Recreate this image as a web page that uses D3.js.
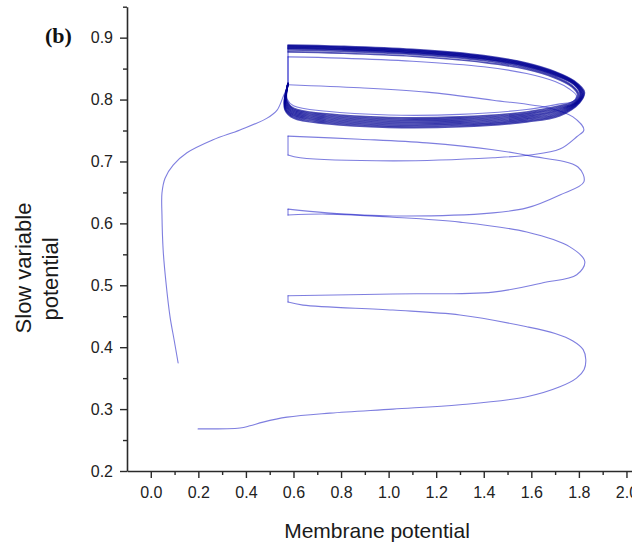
<!DOCTYPE html>
<html>
<head>
<meta charset="utf-8">
<script src="https://cdn.jsdelivr.net/npm/d3@7"></script>
<style>
  body { margin: 0; background: #fff; }
  svg { display: block; }
</style>
</head>
<body>
<svg id="chart" width="632" height="552"></svg>
<script>
// Axis ticks
const xMajorTicks = [0.0, 0.2, 0.4, 0.6, 0.8, 1.0, 1.2, 1.4, 1.6, 1.8, 2.0];
const xMinorTicks = [0.1, 0.3, 0.5, 0.7, 0.9, 1.1, 1.3, 1.5, 1.7, 1.9, 2.1];
const yMajorTicks = [0.2, 0.3, 0.4, 0.5, 0.6, 0.7, 0.8, 0.9];
const yMinorTicks = [0.25, 0.35, 0.45, 0.55, 0.65, 0.75, 0.85, 0.95];

// Transient: (membrane potential, slow variable) climbing from the low state
const approachPath = [
  [0.199, 0.268], [0.375, 0.2695], [0.417, 0.273], [0.472, 0.279], [0.573, 0.287],
  [0.753, 0.2935], [1.018, 0.300], [1.300, 0.307], [1.581, 0.320], [1.720, 0.336],
  [1.790, 0.350], [1.822, 0.364], [1.829, 0.380], [1.818, 0.396], [1.775, 0.410],
  [1.700, 0.422], [1.581, 0.433], [1.300, 0.452],
  [1.018, 0.460], [0.640, 0.468], [0.577, 0.473], [0.577, 0.483], [1.018, 0.486],
  [1.439, 0.489], [1.649, 0.504], [1.791, 0.517], [1.825, 0.538], [1.762, 0.562],
  [1.581, 0.586], [1.300, 0.602], [1.018, 0.610], [0.741, 0.615], [0.577, 0.6135],
  [0.577, 0.623], [0.741, 0.617], [1.018, 0.612], [1.439, 0.617], [1.581, 0.625],
  [1.720, 0.646], [1.821, 0.667], [1.796, 0.691], [1.594, 0.709], [1.439, 0.719],
  [1.161, 0.730], [0.879, 0.736], [0.577, 0.741], [0.577, 0.7105], [0.628, 0.706],
  [1.018, 0.701], [1.439, 0.706], [1.594, 0.7105], [1.720, 0.720], [1.791, 0.740],
  [1.821, 0.751], [1.775, 0.772], [1.678, 0.786], [1.439, 0.799], [1.161, 0.812],
  [0.879, 0.819], [0.577, 0.824]
];

// Second trajectory rising from the left onto the oscillation
const entryPath = [
  [0.115, 0.3745], [0.098, 0.412], [0.081, 0.449], [0.064, 0.504], [0.052, 0.557],
  [0.047, 0.6135], [0.047, 0.649], [0.060, 0.673], [0.094, 0.694], [0.152, 0.714],
  [0.262, 0.735], [0.375, 0.751], [0.489, 0.770], [0.531, 0.783], [0.556, 0.804],
  [0.573, 0.819]
];

// Successive turns of the sustained oscillation
const cycle0 = [[0.577,0.869],[0.80,0.867],[1.10,0.862],[1.40,0.853],[1.58,0.842],[1.70,0.829],[1.76,0.817],[1.790,0.806],[1.775,0.797],[1.72,0.793],[1.58,0.784],[1.30,0.776],[1.00,0.775],[0.74,0.781],[0.60,0.790],[0.573,0.801],[0.571,0.810],[0.575,0.820],[0.577,0.826]];
const cycle1 = [[0.577,0.877],[0.80,0.875],[1.10,0.870],[1.40,0.860],[1.58,0.849],[1.70,0.835],[1.77,0.821],[1.795,0.808],[1.778,0.797],[1.72,0.790],[1.58,0.780],[1.30,0.772],[1.00,0.771],[0.74,0.777],[0.60,0.786],[0.572,0.799],[0.570,0.808],[0.574,0.819],[0.577,0.826]];
const cycle2 = [[0.577,0.880],[0.80,0.878],[1.10,0.873],[1.40,0.863],[1.58,0.851],[1.70,0.837],[1.77,0.823],[1.800,0.808],[1.782,0.796],[1.72,0.788],[1.58,0.778],[1.30,0.770],[1.00,0.769],[0.74,0.775],[0.60,0.784],[0.571,0.797],[0.569,0.807],[0.574,0.819],[0.577,0.826]];
const cycle3 = [[0.577,0.882],[0.80,0.880],[1.10,0.875],[1.40,0.865],[1.58,0.853],[1.70,0.839],[1.78,0.824],[1.805,0.809],[1.785,0.795],[1.72,0.786],[1.58,0.776],[1.30,0.768],[1.00,0.767],[0.74,0.773],[0.60,0.782],[0.570,0.795],[0.568,0.806],[0.573,0.818],[0.577,0.826]];
const cycle4 = [[0.577,0.883],[0.80,0.881],[1.10,0.876],[1.40,0.866],[1.58,0.854],[1.70,0.840],[1.78,0.825],[1.808,0.809],[1.788,0.795],[1.72,0.784],[1.58,0.774],[1.30,0.766],[1.00,0.765],[0.74,0.771],[0.60,0.780],[0.569,0.793],[0.567,0.805],[0.573,0.818],[0.577,0.826]];
const cycle5 = [[0.577,0.884],[0.80,0.882],[1.10,0.877],[1.40,0.867],[1.58,0.855],[1.70,0.841],[1.78,0.826],[1.811,0.810],[1.791,0.795],[1.72,0.782],[1.58,0.772],[1.30,0.764],[1.00,0.763],[0.74,0.769],[0.60,0.778],[0.568,0.791],[0.566,0.804],[0.572,0.817],[0.577,0.826]];
const cycle6 = [[0.577,0.885],[0.80,0.883],[1.10,0.878],[1.40,0.868],[1.58,0.856],[1.70,0.842],[1.78,0.827],[1.814,0.810],[1.794,0.795],[1.72,0.780],[1.58,0.770],[1.30,0.762],[1.00,0.761],[0.74,0.767],[0.60,0.776],[0.567,0.789],[0.565,0.803],[0.572,0.817],[0.577,0.826]];
const cycle7 = [[0.577,0.886],[0.80,0.884],[1.10,0.879],[1.40,0.869],[1.58,0.857],[1.70,0.843],[1.78,0.828],[1.817,0.811],[1.797,0.795],[1.72,0.778],[1.58,0.768],[1.30,0.760],[1.00,0.759],[0.74,0.765],[0.60,0.774],[0.566,0.787],[0.564,0.802],[0.571,0.816],[0.577,0.826]];
const cycle8 = [[0.577,0.887],[0.80,0.885],[1.10,0.880],[1.40,0.870],[1.58,0.858],[1.70,0.844],[1.78,0.829],[1.820,0.811],[1.800,0.795],[1.72,0.776],[1.58,0.766],[1.30,0.758],[1.00,0.757],[0.74,0.763],[0.60,0.772],[0.565,0.785],[0.563,0.801],[0.571,0.816],[0.577,0.826]];
const cycle9 = [[0.577,0.888],[0.80,0.886],[1.10,0.881],[1.40,0.871],[1.58,0.859],[1.70,0.845],[1.78,0.830],[1.823,0.812],[1.803,0.795],[1.72,0.774],[1.58,0.764],[1.30,0.756],[1.00,0.755],[0.74,0.761],[0.60,0.770],[0.565,0.783],[0.562,0.800],[0.570,0.815],[0.577,0.826]];
const firstTurns = [cycle0];
const settledTurns = [cycle1, cycle2, cycle3, cycle4, cycle5, cycle6, cycle7, cycle8, cycle9];

const xTitle = "Membrane potential";
const yTitleLines = ["Slow variable", "potential"];
const panelLabel = "(b)";

// Layout
const svg = d3.select("#chart");
const x = d3.scaleLinear().domain([-0.1, 2.12]).range([127, 655]);
const y = d3.scaleLinear().domain([0.2, 0.95]).range([471, 6.7]);

const font = "'Liberation Sans', Arial, sans-serif";
const axisColor = "#2a2a2a";

// Smooth curve between points, with sharp corners at the vertical jumps
const smooth = d3.line()
  .x(d => x(d[0]))
  .y(d => y(d[1]))
  .curve(d3.curveCatmullRom.alpha(0.5));

function pieces(points) {
  const out = [];
  let current = [points[0]];
  for (let i = 1; i < points.length; i++) {
    const p = points[i], q = points[i - 1];
    if (p[0] === q[0]) {
      if (current.length > 1) out.push(current);
      out.push([q, p]);
      current = [p];
    } else {
      current.push(p);
    }
  }
  if (current.length > 1) out.push(current);
  return out;
}
const isJump = s => s.length === 2 && s[0][0] === s[1][0];

const traj = svg.append("g")
  .attr("fill", "none")
  .attr("stroke-linejoin", "round")
  .attr("stroke-linecap", "round");

// Transient part: light single strokes
const transient = approachPath.concat(...firstTurns);
traj.selectAll("path.transient")
  .data(pieces(transient).concat([entryPath]))
  .join("path")
  .attr("class", "transient")
  .attr("d", d => smooth(d))
  .attr("stroke", "#1414c4")
  .attr("stroke-opacity", 0.55)
  .attr("stroke-width", 1.1);

// Settled turns: each piece drawn on its own so overlaps build up the dark band
let prevEnd = transient[transient.length - 1];
const turnPieces = [];
settledTurns.forEach(turn => {
  pieces([prevEnd].concat(turn)).forEach(s => turnPieces.push(s));
  prevEnd = turn[turn.length - 1];
});

// fast jumps at the left edge stay faint even when stacked
traj.selectAll("path.jump")
  .data(turnPieces.filter(isJump))
  .join("path")
  .attr("class", "jump")
  .attr("d", d => smooth(d))
  .attr("stroke", "#1414c4")
  .attr("stroke-opacity", 0.09)
  .attr("stroke-width", 1.1);

traj.selectAll("path.turn")
  .data(turnPieces.filter(s => !isJump(s)))
  .join("path")
  .attr("class", "turn")
  .attr("d", d => smooth(d))
  .attr("stroke", "#000094")
  .attr("stroke-opacity", 0.68)
  .attr("stroke-width", 1.6);

// Axes
function styleAxis(g) {
  g.select(".domain").attr("stroke", axisColor).attr("stroke-width", 1.6);
  g.selectAll(".tick line").attr("stroke", axisColor).attr("stroke-width", 1.4);
  g.selectAll(".tick text")
    .attr("fill", "#222")
    .style("font-family", font)
    .style("font-size", "16px");
}

svg.append("g")
  .attr("transform", `translate(0,${y(0.2)})`)
  .call(d3.axisBottom(x).tickValues(xMajorTicks).tickSize(7).tickSizeOuter(0)
    .tickPadding(9).tickFormat(d3.format(".1f")))
  .call(styleAxis);

svg.append("g")
  .attr("transform", `translate(0,${y(0.2)})`)
  .call(d3.axisBottom(x).tickValues(xMinorTicks).tickSize(4).tickFormat(""))
  .call(g => g.select(".domain").remove())
  .call(styleAxis);

svg.append("g")
  .attr("transform", `translate(${x(-0.1)},0)`)
  .call(d3.axisLeft(y).tickValues(yMajorTicks).tickSize(7).tickSizeOuter(0)
    .tickPadding(7).tickFormat(d3.format(".1f")))
  .call(styleAxis);

svg.append("g")
  .attr("transform", `translate(${x(-0.1)},0)`)
  .call(d3.axisLeft(y).tickValues(yMinorTicks).tickSize(4).tickFormat(""))
  .call(g => g.select(".domain").remove())
  .call(styleAxis);

// Titles
svg.append("text")
  .attr("x", 377).attr("y", 538)
  .attr("text-anchor", "middle")
  .style("font-family", font).style("font-size", "21px")
  .attr("fill", "#1a1a1a")
  .text(xTitle);

const yTitlePos = [[31, 268], [58, 279]];
yTitleLines.forEach((t, i) => {
  svg.append("text")
    .attr("transform", `translate(${yTitlePos[i][0]},${yTitlePos[i][1]}) rotate(-90)`)
    .attr("text-anchor", "middle")
    .style("font-family", font).style("font-size", "22px")
    .attr("fill", "#1a1a1a")
    .text(t);
});

svg.append("text")
  .attr("x", 45).attr("y", 43)
  .style("font-family", "'Liberation Serif', 'Times New Roman', serif")
  .style("font-size", "22px").style("font-weight", "bold")
  .attr("fill", "#111")
  .text(panelLabel);
</script>
</body>
</html>
